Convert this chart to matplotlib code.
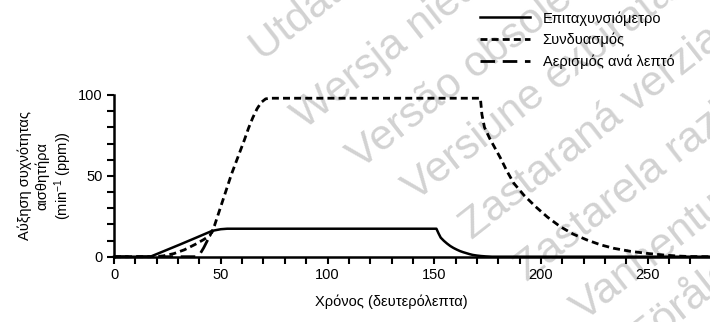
import matplotlib
matplotlib.use("Agg")
import matplotlib.pyplot as plt

plt.rcParams["font.family"] = ["Liberation Sans", "DejaVu Sans"]
plt.rcParams["mathtext.fontset"] = "custom"
plt.rcParams["mathtext.rm"] = "Liberation Sans"
plt.rcParams["mathtext.it"] = "Liberation Sans"
plt.rcParams["lines.scale_dashes"] = False

# series (time in s, rate increase in ppm)
accel_t = [0, 17, 24, 31, 38, 46, 50, 53, 151, 152, 153, 154.5, 156, 157.5, 159, 160.5,
           162, 163.5, 165, 166.5, 168, 170, 172, 174, 177, 280]
accel_v = [0, 0, 3.8, 7.6, 11.5, 16, 17.0, 17.3, 17.3, 14.4, 11.8, 9.8, 8.1, 6.6, 5.4, 4.4,
           3.5, 2.8, 2.2, 1.6, 1.1, 0.7, 0.4, 0.2, 0, 0]

combo_t = [0, 19, 23, 28, 33, 38, 42, 45, 47, 49, 51, 53, 55, 57, 59, 61, 63, 65, 67, 69,
           71, 73, 171.6, 172.3, 173.5, 176, 178.5, 181, 184, 187.2, 192, 197.4, 203, 209,
           215, 221.6, 228, 234, 242, 250, 257, 264, 270, 280]
combo_v = [0, 0, 0.5, 1.9, 4.3, 7.6, 10.6, 13.2, 19, 27, 35, 43, 51, 58, 65, 72, 79.5,
           86, 91.5, 95.5, 97.6, 98, 98, 88, 80, 73, 67, 61, 53, 45.5, 38, 31, 24.5, 18.6,
           14, 10.3, 7.3, 5.2, 3.3, 2.0, 1.1, 0.4, 0.1, 0]

vent_t = [0, 39.5, 42, 44.5, 46.5]
vent_v = [0, 0, 5.5, 12, 16.5]

labels = ["Επιταχυνσιόμετρο", "Συνδυασμός", "Αερισμός ανά λεπτό"]

watermarks = [
    ("Utdatert versjon", 262, 62),
    ("Wersja nieaktualna", 304, 130),
    ("Versão obsoleta", 360, 170),
    ("Versiune expirată", 415, 202),
    ("Zastaraná verzia", 472, 240),
    ("Zastarela različica", 527, 282),
    ("Vanhentunut versio", 584, 322),
    ("Föråldrad version", 642, 352),
]

W, H = 710, 322
fig = plt.figure(figsize=(W / 100, H / 100), dpi=100)

for s, px, py in watermarks:
    fig.text(px / W, 1 - py / H, s, rotation=38, rotation_mode="anchor",
             ha="left", va="baseline", fontsize=31, color="#d2d2d2", zorder=-1)

ax = fig.add_axes([0.1606, 0.2028, 0.842, 0.5022])
ax.set_facecolor("none")

ax.plot(accel_t, accel_v, color="black", lw=1.8, label=labels[0], clip_on=False)
ax.plot(combo_t, combo_v, color="black", lw=2.0, dashes=(5, 3), label=labels[1], clip_on=False)
ax.plot(vent_t, vent_v, color="black", lw=2.0, dashes=(10.5, 5.5), label=labels[2], clip_on=False)

ax.set_xlim(0, 280)
ax.set_ylim(0, 100)
ax.set_xticks(range(0, 251, 50))
ax.set_xticks(range(0, 281, 10), minor=True)
ax.set_yticks([0, 50, 100])
ax.set_yticks(range(0, 101, 10), minor=True)

for side in ["top", "right"]:
    ax.spines[side].set_visible(False)
for side in ["left", "bottom"]:
    ax.spines[side].set_linewidth(1.8)

ax.tick_params(which="both", direction="out", length=5, width=1.5, labelsize=10.5, pad=3)

ax.set_xlabel("Χρόνος (δευτερόλεπτα)", fontsize=10.5)
ax.xaxis.set_label_coords(0.463, -0.28)
ax.xaxis.label.set_va("center")
ax.set_ylabel("Αύξηση συχνότητας\nαισθητήρα\n(min$^{-1}$ (ppm))", fontsize=10.5)
ax.yaxis.set_label_coords(-0.114, 0.5)
ax.yaxis.label.set_va("center")

fig.legend(loc="upper left", bbox_to_anchor=(480 / W, 1 - 11 / H), frameon=False,
           fontsize=10.5, handlelength=3.4, handletextpad=0.9, labelspacing=0.5,
           borderpad=0, borderaxespad=0)

fig.savefig("out.png", dpi=100, facecolor="white")
